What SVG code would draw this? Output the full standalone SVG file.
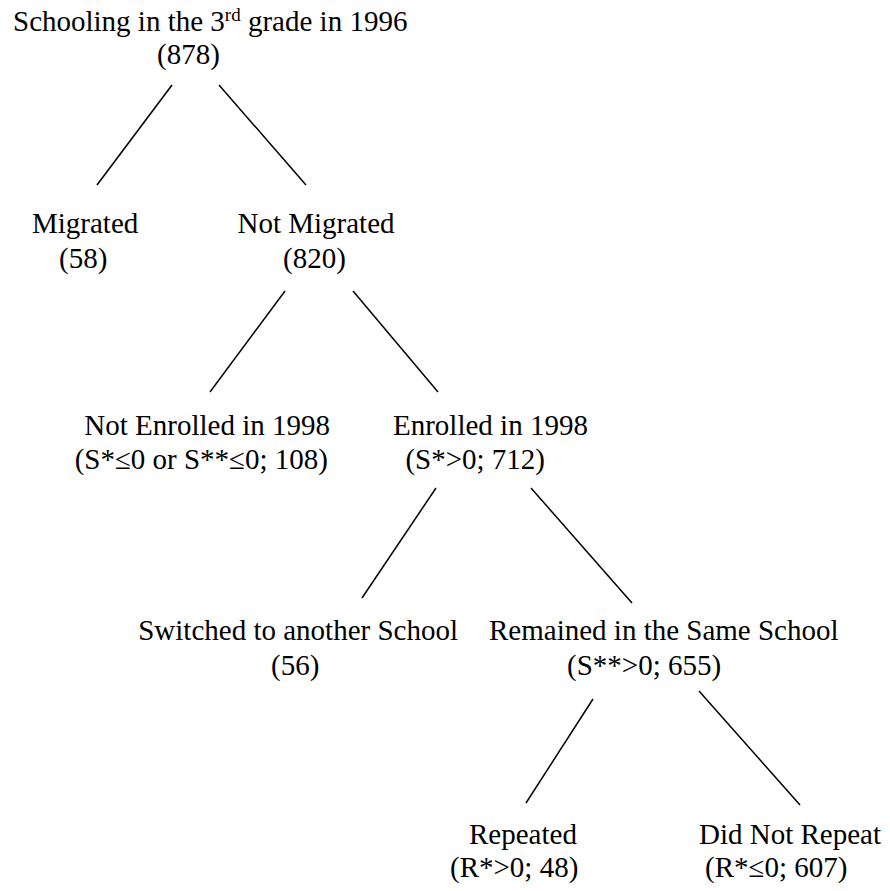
<svg xmlns="http://www.w3.org/2000/svg" width="890" height="891" viewBox="0 0 890 891">
<style>
  text { font-family: "Liberation Serif", "Times New Roman", serif; font-size: 29px; fill: #000; }
  .mid { text-anchor: middle; }
  .end { text-anchor: end; }
  .sup { font-size: 19px; }
  line { stroke: #000; stroke-width: 1.5; }
</style>
<rect width="890" height="891" fill="#fff"/>
<g id="connectors">
  <line x1="172" y1="85" x2="97" y2="185"/>
  <line x1="219" y1="85" x2="306" y2="185"/>
  <line x1="285" y1="291" x2="210" y2="392"/>
  <line x1="353" y1="291" x2="438" y2="392"/>
  <line x1="436" y1="488" x2="362" y2="598"/>
  <line x1="531" y1="488" x2="632" y2="603"/>
  <line x1="593" y1="699" x2="526" y2="803"/>
  <line x1="699" y1="691" x2="800" y2="805"/>
</g>
<g id="root">
  <text x="13" y="31">Schooling in the 3<tspan class="sup" dy="-10">rd</tspan><tspan dy="10"> grade in 1996</tspan></text>
  <text x="157" y="64">(878)</text>
</g>
<g id="migrated">
  <text x="32" y="233">Migrated</text>
  <text x="59" y="268">(58)</text>
</g>
<g id="not-migrated">
  <text x="316" y="233" class="mid">Not Migrated</text>
  <text x="283" y="268">(820)</text>
</g>
<g id="not-enrolled">
  <text x="330" y="435" class="end">Not Enrolled in 1998</text>
  <text x="328" y="469" class="end">(S*≤0 or S**≤0; 108)</text>
</g>
<g id="enrolled">
  <text x="393" y="435">Enrolled in 1998</text>
  <text x="545" y="469" class="end">(S*&gt;0; 712)</text>
</g>
<g id="switched">
  <text x="458" y="640" class="end">Switched to another School</text>
  <text x="271" y="675">(56)</text>
</g>
<g id="remained">
  <text x="489" y="640">Remained in the Same School</text>
  <text x="567" y="675">(S**&gt;0; 655)</text>
</g>
<g id="repeated">
  <text x="469" y="844">Repeated</text>
  <text x="450" y="877">(R*&gt;0; 48)</text>
</g>
<g id="did-not-repeat">
  <text x="699" y="844">Did Not Repeat</text>
  <text x="705" y="877">(R*≤0; 607)</text>
</g>
</svg>
